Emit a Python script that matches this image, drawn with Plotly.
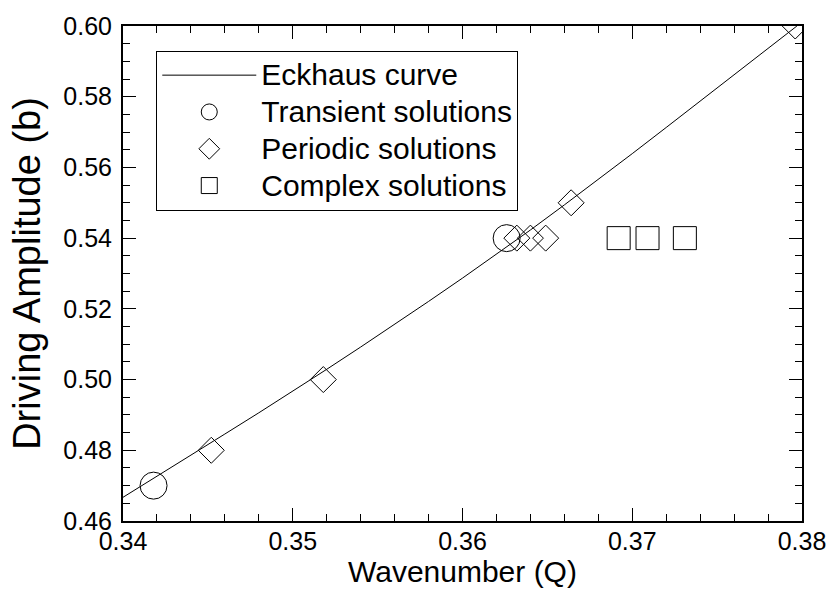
import plotly.graph_objects as go

# Eckhaus stability boundary b(Q)
eckhaus_q = [0.3400, 0.3420, 0.3440, 0.3460, 0.3480, 0.3500, 0.3520, 0.3540,
             0.3560, 0.3580, 0.3600, 0.3620, 0.3640, 0.3660, 0.3680, 0.3700,
             0.3720, 0.3740, 0.3760, 0.3780, 0.3797]
eckhaus_b = [0.4667, 0.4726, 0.4786, 0.4846, 0.4906, 0.4967, 0.5029, 0.5092,
             0.5156, 0.5221, 0.5287, 0.5354, 0.5423, 0.5494, 0.5566, 0.5639,
             0.5713, 0.5787, 0.5862, 0.5937, 0.6000]

# Simulation outcomes
transient_q = [0.3418, 0.3626]
transient_b = [0.47, 0.54]

periodic_q = [0.3452, 0.3518, 0.3632, 0.3640, 0.3649, 0.3664, 0.3796]
periodic_b = [0.48, 0.50, 0.54, 0.54, 0.54, 0.55, 0.60]

complex_q = [0.3692, 0.3709, 0.3731]
complex_b = [0.54, 0.54, 0.54]

x_ticks = [0.34, 0.35, 0.36, 0.37, 0.38]
y_ticks = [0.46, 0.48, 0.50, 0.52, 0.54, 0.56, 0.58, 0.60]

series_names = ["Eckhaus curve", "Transient solutions",
                "Periodic solutions", "Complex solutions"]

FONT = "Liberation Sans, Arial, sans-serif"


def legend_label(text):
    # larger glyphs in the legend while keeping rows compact
    return f'<span style="font-size:30px">{text}</span>'


fig = go.Figure()
fig.add_trace(go.Scatter(x=eckhaus_q, y=eckhaus_b, mode="lines",
                         line=dict(color="black", width=1),
                         name=legend_label(series_names[0])))
fig.add_trace(go.Scatter(x=transient_q, y=transient_b, mode="markers",
                         marker=dict(symbol="circle-open", size=27, color="black",
                                     line=dict(width=1)),
                         name=legend_label(series_names[1])))
fig.add_trace(go.Scatter(x=periodic_q, y=periodic_b, mode="markers",
                         marker=dict(symbol="diamond-open", size=20, color="black",
                                     line=dict(width=1)),
                         name=legend_label(series_names[2])))
fig.add_trace(go.Scatter(x=complex_q, y=complex_b, mode="markers",
                         marker=dict(symbol="square-open", size=23, color="black",
                                     line=dict(width=1)),
                         name=legend_label(series_names[3])))

axis_common = dict(
    showgrid=False, zeroline=False,
    showline=True, linecolor="black", linewidth=2, mirror="ticks",
    ticks="inside", ticklen=13, tickwidth=1, tickcolor="black",
    tickfont=dict(family=FONT, size=25, color="black"),
)

fig.update_xaxes(
    range=[0.34, 0.38], tickvals=x_ticks,
    ticktext=[f"{v:.2f}" for v in x_ticks],
    ticklabelstandoff=-3,
    minor=dict(dtick=0.002, ticks="inside", ticklen=7, tickwidth=1, tickcolor="black"),
    **axis_common,
)
fig.update_yaxes(
    range=[0.46, 0.60], tickvals=y_ticks,
    ticktext=[f"{v:.2f}" for v in y_ticks],
    ticklabelstandoff=4,
    minor=dict(dtick=0.005, ticks="inside", ticklen=7, tickwidth=1, tickcolor="black"),
    title=dict(text="Driving Amplitude (b)", font=dict(family=FONT, size=38, color="black"),
               standoff=11),
    **axis_common,
)

# x-axis title placed just beneath the tick labels
fig.add_annotation(
    text="Wavenumber (Q)", xref="paper", yref="paper",
    x=0.5, y=-0.103, xanchor="center", yanchor="middle",
    showarrow=False, font=dict(family=FONT, size=30, color="black"),
)

fig.update_layout(
    width=838, height=594,
    margin=dict(l=123, r=26, t=18, b=73),
    plot_bgcolor="white", paper_bgcolor="white",
    font=dict(family=FONT, color="black"),
    showlegend=True,
    legend=dict(
        x=0.049, y=0.95, xanchor="left", yanchor="top",
        bgcolor="white", bordercolor="black", borderwidth=1,
        font=dict(family=FONT, size=26, color="black"),
        itemwidth=94, tracegroupgap=0,
    ),
)

fig.write_html("out.html")
